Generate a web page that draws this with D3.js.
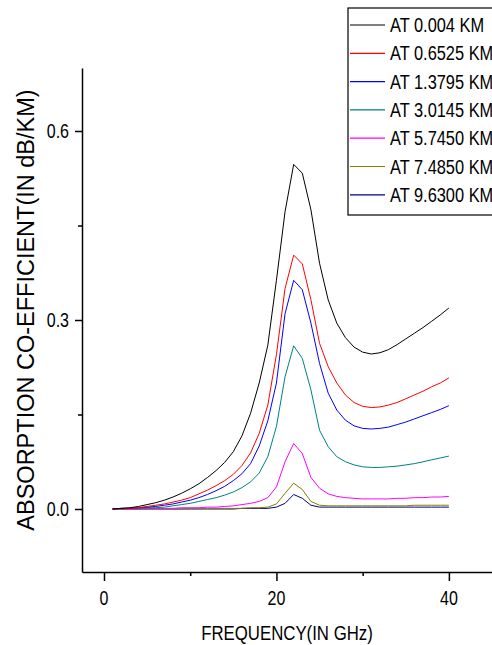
<!DOCTYPE html>
<html>
<head>
<meta charset="utf-8">
<script src="https://cdn.jsdelivr.net/npm/d3@7"></script>
<style>
  body { margin: 0; background: #fff; }
</style>
</head>
<body>
<script>
// frequency (GHz)
const freqs = [1, 2, 3, 4, 5, 6, 7, 8, 9, 10, 11, 12, 13, 14, 15, 16, 17, 18, 19, 20,
  21, 22, 23, 24, 25, 26, 27, 28, 29, 30, 31, 32, 33, 34, 35, 36, 37, 38, 39, 40];

// absorption (dB/km) at each height
const at0004 = [0.000, 0.001, 0.002, 0.004, 0.007, 0.010, 0.014, 0.019, 0.025, 0.032,
  0.040, 0.050, 0.061, 0.074, 0.091, 0.116, 0.152, 0.200, 0.260, 0.363,
  0.472, 0.547, 0.533, 0.475, 0.390, 0.332, 0.295, 0.272, 0.257, 0.249,
  0.246, 0.248, 0.253, 0.261, 0.270, 0.279, 0.288, 0.298, 0.308, 0.319];
const at06525 = [0.000, 0.001, 0.001, 0.002, 0.004, 0.006, 0.008, 0.011, 0.014, 0.018,
  0.024, 0.030, 0.037, 0.045, 0.055, 0.069, 0.089, 0.120, 0.165, 0.245,
  0.350, 0.403, 0.389, 0.332, 0.263, 0.226, 0.200, 0.181, 0.169, 0.163,
  0.161, 0.162, 0.165, 0.169, 0.175, 0.181, 0.187, 0.194, 0.200, 0.208];
const at13795 = [0.000, 0.001, 0.001, 0.002, 0.003, 0.004, 0.006, 0.008, 0.011, 0.014,
  0.018, 0.023, 0.029, 0.036, 0.045, 0.056, 0.072, 0.100, 0.140, 0.200,
  0.310, 0.363, 0.348, 0.295, 0.231, 0.184, 0.157, 0.141, 0.132, 0.128,
  0.127, 0.128, 0.130, 0.134, 0.138, 0.143, 0.148, 0.153, 0.158, 0.164];
const at30145 = [0.000, 0.000, 0.001, 0.001, 0.002, 0.002, 0.003, 0.005, 0.007, 0.009,
  0.012, 0.015, 0.018, 0.022, 0.027, 0.034, 0.043, 0.057, 0.083, 0.131,
  0.210, 0.259, 0.239, 0.189, 0.125, 0.099, 0.083, 0.075, 0.070, 0.067,
  0.066, 0.066, 0.067, 0.068, 0.070, 0.072, 0.075, 0.078, 0.081, 0.084];
const at57450 = [0.000, 0.000, 0.000, 0.000, 0.001, 0.001, 0.001, 0.001, 0.002, 0.002,
  0.002, 0.003, 0.003, 0.004, 0.005, 0.007, 0.009, 0.012, 0.018, 0.035,
  0.075, 0.104, 0.088, 0.050, 0.033, 0.024, 0.020, 0.018, 0.017, 0.016,
  0.016, 0.016, 0.016, 0.017, 0.017, 0.018, 0.018, 0.019, 0.019, 0.020];
const at74850 = [0.000, 0.000, 0.000, 0.000, 0.000, 0.000, 0.000, 0.000, 0.000, 0.001,
  0.001, 0.001, 0.001, 0.001, 0.001, 0.001, 0.002, 0.002, 0.003, 0.008,
  0.025, 0.041, 0.031, 0.012, 0.006, 0.005, 0.005, 0.005, 0.005, 0.005,
  0.005, 0.005, 0.005, 0.005, 0.005, 0.006, 0.006, 0.006, 0.006, 0.006];
const at96300 = [0.000, 0.000, 0.000, 0.000, 0.000, 0.000, 0.000, 0.000, 0.000, 0.000,
  0.000, 0.000, 0.000, 0.000, 0.000, 0.001, 0.001, 0.001, 0.001, 0.003,
  0.009, 0.023, 0.017, 0.006, 0.003, 0.003, 0.003, 0.003, 0.003, 0.003,
  0.003, 0.003, 0.003, 0.003, 0.003, 0.003, 0.003, 0.003, 0.003, 0.003];

const seriesNames = ["AT 0.004 KM", "AT 0.6525 KM", "AT 1.3795 KM", "AT 3.0145 KM",
  "AT 5.7450 KM", "AT 7.4850 KM", "AT 9.6300 KM"];
const seriesValues = [at0004, at06525, at13795, at30145, at57450, at74850, at96300];
const colors = ["#000000", "#ff0000", "#0000ff", "#008080", "#ff00ff", "#808000", "#000080"];

const xMajor = [0, 20, 40];
const xMinor = [10, 30];
const yMajor = [0.0, 0.3, 0.6];
const yMinor = [0.15, 0.45];

const W = 492, H = 645;
const FONT = "'Liberation Sans', Arial, sans-serif";
const SQUEEZE = 0.8; // no narrow font installed, so squeeze Arial-like text

const svg = d3.select("body").append("svg")
  .attr("width", W)
  .attr("height", H);

const x = d3.scaleLinear().domain([-2.55, 45]).range([82, 492]);
const y = d3.scaleLinear().domain([-0.1, 0.7]).range([572, 68]);

const line = d3.line()
  .x((d, i) => x(freqs[i]))
  .y(d => y(d));

// narrow text placed at (px, py)
function narrowText(parent, px, py, txt, size, anchor) {
  return parent.append("text")
    .attr("transform", `translate(${px},${py}) scale(${SQUEEZE},1)`)
    .attr("text-anchor", anchor || "start")
    .attr("font-family", FONT)
    .attr("font-size", size)
    .attr("fill", "#000")
    .text(txt);
}

// curves (bottom ones first so black sits on top)
seriesValues.slice().reverse().forEach((vals, k) => {
  const i = seriesValues.length - 1 - k;
  svg.append("path")
    .datum(vals)
    .attr("fill", "none")
    .attr("stroke", colors[i])
    .attr("stroke-width", 1)
    .attr("d", line);
});

// axes
const gx = svg.append("g")
  .attr("transform", `translate(0,${y(-0.1)})`)
  .call(d3.axisBottom(x).tickValues(xMajor).tickSize(9).tickSizeOuter(0).tickFormat(""));
gx.append("g")
  .call(d3.axisBottom(x).tickValues(xMinor).tickSize(4).tickFormat(""))
  .select(".domain").remove();

const gy = svg.append("g")
  .attr("transform", `translate(${x(-2.55)},0)`)
  .call(d3.axisLeft(y).tickValues(yMajor).tickSize(7).tickSizeOuter(0).tickFormat(""));
gy.append("g")
  .call(d3.axisLeft(y).tickValues(yMinor).tickSize(4).tickFormat(""))
  .select(".domain").remove();

svg.selectAll(".domain").attr("stroke", "#000").attr("stroke-width", 1.5);
svg.selectAll(".tick line").attr("stroke", "#000").attr("stroke-width", 1.5);

// tick labels
xMajor.forEach(v => narrowText(svg, x(v), 605, d3.format("d")(v), 20, "middle"));
yMajor.forEach(v => narrowText(svg, 69, y(v) + 7, d3.format(".1f")(v), 20, "end"));

// axis titles
narrowText(svg, 287, 640, "FREQUENCY(IN GHz)", 21, "middle");

svg.append("text")
  .attr("transform", "translate(34,310) rotate(-90)")
  .attr("text-anchor", "middle")
  .attr("font-family", FONT)
  .attr("font-size", 23.5)
  .text("ABSORPTION CO-EFFICIENT(IN dB/KM)");

// legend
const legend = svg.append("g");
legend.append("rect")
  .attr("x", 348)
  .attr("y", 8)
  .attr("width", 160)
  .attr("height", 207)
  .attr("fill", "#fff")
  .attr("stroke", "#000")
  .attr("stroke-width", 1.2);

seriesNames.forEach((name, i) => {
  const cy = 25 + i * 28.3;
  legend.append("line")
    .attr("x1", 350).attr("x2", 385)
    .attr("y1", cy).attr("y2", cy)
    .attr("stroke", colors[i])
    .attr("stroke-width", 1.2);
  narrowText(legend, 390, cy + 7, name, 20.5, "start");
});
</script>
</body>
</html>
